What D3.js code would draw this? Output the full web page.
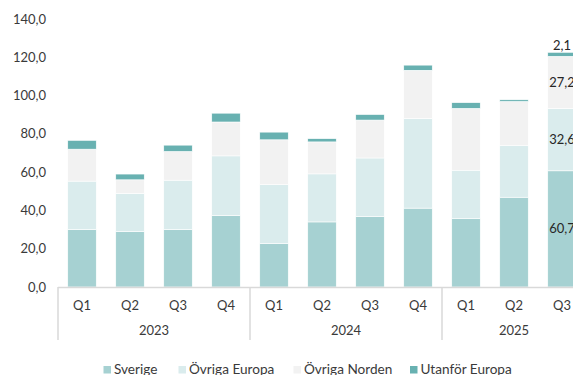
<!DOCTYPE html>
<html>
<head>
<meta charset="utf-8">
<script src="https://cdn.jsdelivr.net/npm/d3@7/dist/d3.min.js"></script>
<style>
  html, body { margin: 0; padding: 0; background: #fff; overflow: hidden; }
  svg { display: block; font-family: Lato, "Open Sans", sans-serif; }
</style>
</head>
<body>
<svg id="chart" width="573" height="375"></svg>
<script>
// ---- data ----
const quarters = ["Q1","Q2","Q3","Q4","Q1","Q2","Q3","Q4","Q1","Q2","Q3"];
const years = ["2023","2024","2025"];
const yearOfBar = [0,0,0,0,1,1,1,1,2,2,2];
const seriesNames = ["Sverige","Övriga Europa","Övriga Norden","Utanför Europa"];
const sverige      = [30.1, 28.9, 30.1, 37.3, 22.7, 34.0, 36.8, 41.2, 35.9, 46.9, 60.7];
const ovrigaEuropa = [25.2, 20.0, 25.7, 31.2, 30.8, 25.1, 30.6, 46.9, 25.1, 26.9, 32.6];
const ovrigaNorden = [16.7,  7.1, 15.0, 17.7, 23.4, 16.7, 19.8, 25.1, 32.3, 23.1, 27.2];
const utanforEuropa= [ 4.6,  3.0,  3.3,  4.6,  4.0,  1.7,  2.9,  2.7,  3.0,  0.9,  2.1];
const yTicks = [0, 20, 40, 60, 80, 100, 120, 140];
const colors = ["#a6d1d2", "#daeced", "#f2f2f2", "#68b1b1"];
const labelledBar = 10;

// ---- build ----
const svg = d3.select("#chart");
const ids = quarters.map((q, i) => i);
const rows = ids.map(i => ({
  id: i,
  "Sverige": sverige[i],
  "Övriga Europa": ovrigaEuropa[i],
  "Övriga Norden": ovrigaNorden[i],
  "Utanför Europa": utanforEuropa[i]
}));
const stack = d3.stack().keys(seriesNames)(rows);

const x = d3.scaleBand().domain(ids).range([58, 586]).paddingInner(0.406).paddingOuter(0.203);
const y = d3.scaleLinear().domain([0, 140]).range([287, 19]);
const fmt = v => d3.format(".1f")(v).replace(".", ",");
const textColor = "#3a3a3a";

// y axis labels
svg.append("g").selectAll("text").data(yTicks).join("text")
  .attr("x", 46).attr("y", d => y(d)).attr("dy", "0.35em")
  .attr("text-anchor", "end").attr("font-size", 13).attr("fill", textColor)
  .text(fmt);

// bars
svg.append("g").selectAll("g").data(stack).join("g")
  .attr("fill", (d, i) => colors[i])
  .selectAll("rect").data(d => d).join("rect")
  .attr("x", d => x(d.data.id))
  .attr("width", x.bandwidth())
  .attr("y", d => y(d[1]))
  .attr("height", d => y(d[0]) - y(d[1]))
  .attr("stroke", "#ffffff").attr("stroke-width", 0.6);

// category axis
const axisG = svg.append("g");
const step = x.step();
const x0 = 58;
axisG.append("line").attr("x1", x0).attr("x2", 600).attr("y1", 287.5).attr("y2", 287.5)
  .attr("stroke", "#d9d9d9").attr("stroke-width", 1.5);
const sepIdx = [0, 4, 8];
axisG.selectAll("line.sep").data(sepIdx).join("line").attr("class", "sep")
  .attr("x1", i => x(i) - (step - x.bandwidth()) / 2)
  .attr("x2", i => x(i) - (step - x.bandwidth()) / 2)
  .attr("y1", 287).attr("y2", 340)
  .attr("stroke", "#d9d9d9").attr("stroke-width", 1.5);

axisG.selectAll("text.q").data(ids).join("text").attr("class", "q")
  .attr("x", i => x(i) + x.bandwidth() / 2).attr("y", 305).attr("dy", "0.35em")
  .attr("text-anchor", "middle").attr("font-size", 13).attr("fill", textColor)
  .text(i => quarters[i]);

const yearSpans = years.map((yr, k) => {
  const members = ids.filter(i => yearOfBar[i] === k);
  const start = x(members[0]) - (step - x.bandwidth()) / 2;
  const end = k === 2 ? start + 3 * step : start + members.length * step;
  return { yr, mid: (start + end) / 2 };
});
axisG.selectAll("text.yr").data(yearSpans).join("text").attr("class", "yr")
  .attr("x", d => d.mid).attr("y", 330.5).attr("dy", "0.35em")
  .attr("text-anchor", "middle").attr("font-size", 13).attr("fill", textColor)
  .text(d => d.yr);

// data labels on last bar
const lbl = svg.append("g");
stack.forEach((s, si) => {
  const d = s[labelledBar];
  const cx = x(labelledBar) + x.bandwidth() / 2;
  const val = d[1] - d[0];
  const isTop = si === stack.length - 1;
  lbl.append("text")
    .attr("x", cx)
    .attr("y", isTop ? y(d[1]) - 2 : y((d[0] + d[1]) / 2))
    .attr("dy", isTop ? "0" : "0.35em")
    .attr("text-anchor", "middle").attr("font-size", 13).attr("fill", "#262626")
    .text(fmt(val));
});

// legend
const legendX = [103.5, 178.5, 293.5, 410];
const lg = svg.append("g").selectAll("g").data(seriesNames).join("g")
  .attr("transform", (d, i) => `translate(${legendX[i]},369.5)`);
lg.append("rect").attr("x", 0).attr("y", -3.5).attr("width", 7.5).attr("height", 7.5)
  .attr("fill", (d, i) => colors[i]);
lg.append("text").attr("x", 10.5).attr("y", 0).attr("dy", "0.35em")
  .attr("font-size", 13.6).attr("fill", textColor).text(d => d);
</script>
</body>
</html>
